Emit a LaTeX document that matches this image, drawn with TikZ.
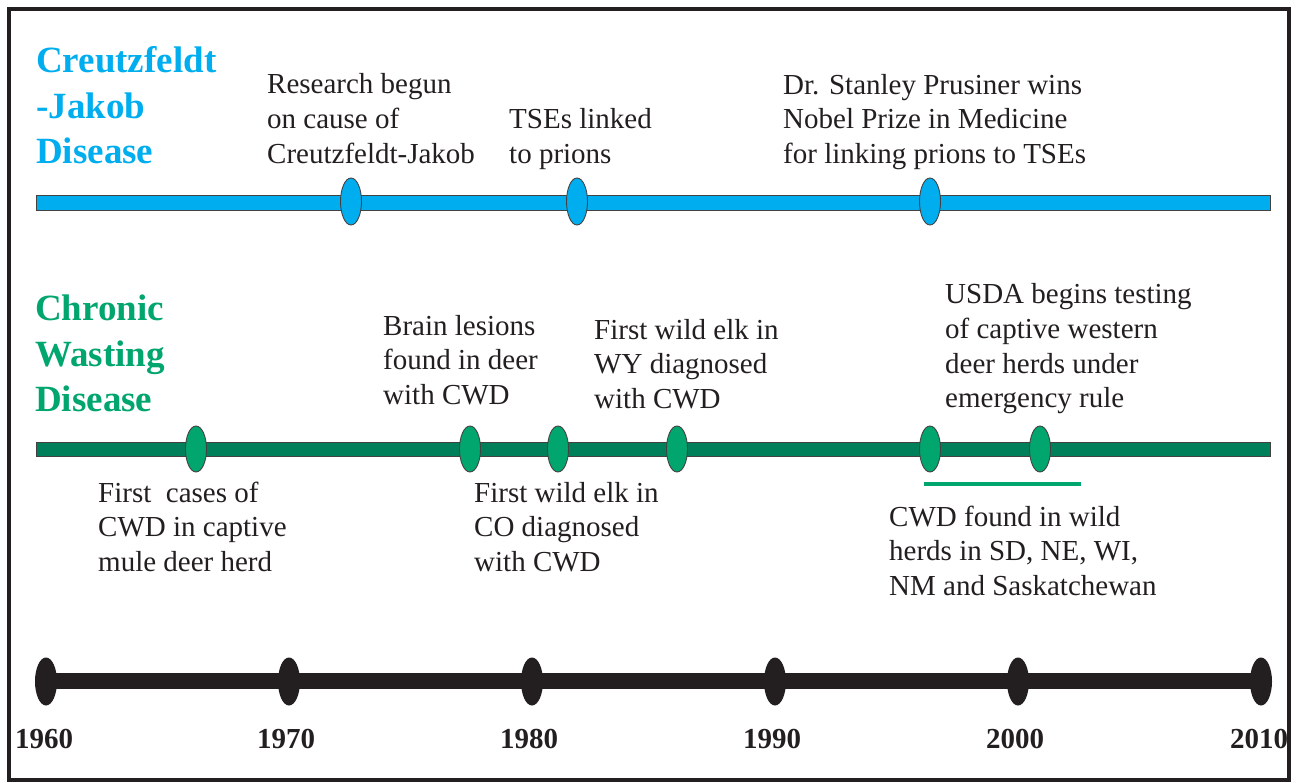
\documentclass[tikz,border=0pt]{standalone}
\usepackage{fontspec}
\setmainfont{Liberation Serif}
\usetikzlibrary{shapes.geometric}
\definecolor{cjdblue}{HTML}{00AEEF}
\definecolor{cwdgreen}{HTML}{00A66E}
\definecolor{bargreen}{HTML}{007F5B}
\definecolor{ink}{HTML}{231F20}
\begin{document}
\begin{tikzpicture}[x=1pt,y=-1pt,
  body/.style={anchor=north west, inner sep=0pt, align=left, text=ink, font=\fontsize{29}{34.7}\selectfont},
  title/.style={anchor=north west, inner sep=0pt, align=left, font=\bfseries\fontsize{37}{45.3}\selectfont},
  year/.style={anchor=base, inner sep=0pt, text=ink, font=\bfseries\fontsize{29}{34}\selectfont},
  bar/.style={draw=ink!85, line width=0.9pt},
  bluemark/.style={ellipse, draw=ink!85, line width=0.9pt, fill=cjdblue, minimum width=21pt, minimum height=47pt, inner sep=0pt},
  greenmark/.style={ellipse, draw=ink!85, line width=0.9pt, fill=cwdgreen, minimum width=21pt, minimum height=46pt, inner sep=0pt},
  blackmark/.style={ellipse, fill=ink, minimum width=22pt, minimum height=48pt, inner sep=0pt},
]
\useasboundingbox (0,0) rectangle (1297,783);
\fill[white] (0,0) rectangle (1297,783);
\draw[ink, line width=4pt] (9,9) rectangle (1289,780);

% bars
\draw[bar, fill=cjdblue] (36,195) rectangle (1270,210);
\draw[bar, fill=bargreen] (36,442) rectangle (1270,456);
\fill[ink] (46,673) rectangle (1261,689);

% CJD markers
\node[bluemark] (b1) at (351,201.5) {};
\node[bluemark] (b2) at (577,201.5) {};
\node[bluemark] (b3) at (930,201.5) {};

% CWD markers
\node[greenmark] (g1) at (196,449) {};
\node[greenmark] (g2) at (470,449) {};
\node[greenmark] (g3) at (558,449) {};
\node[greenmark] (g4) at (677,449) {};
\node[greenmark] (g5) at (930,449) {};
\node[greenmark] (g6) at (1040,449) {};
\draw[cwdgreen, line width=4.5pt] (924,484) -- (1081,484);

% decade markers
\node[blackmark] (y1960) at (46,681.5) {};
\node[blackmark] (y1970) at (289,681.5) {};
\node[blackmark] (y1980) at (532,681.5) {};
\node[blackmark] (y1990) at (775,681.5) {};
\node[blackmark] (y2000) at (1018,681.5) {};
\node[blackmark] (y2010) at (1261,681.5) {};

\node[year] (l1960) at (44,748) {1960};
\node[year] (l1970) at (286,748) {1970};
\node[year] (l1980) at (529,748) {1980};
\node[year] (l1990) at (772,748) {1990};
\node[year] (l2000) at (1015,748) {2000};
\node[year] (l2010) at (1259,748) {2010};

% titles
\node[title, text=cjdblue] (cjd) at (36,41) {\strut Creutzfeldt\\-Jakob\\Disease};
\node[title, text=cwdgreen] (cwd) at (35,289) {\strut Chronic\\Wasting\\Disease};

% CJD events
\node[body] (t1) at (267,69.2) {\strut Research begun\\on cause of\\Creutzfeldt-Jakob};
\node[body] (t2) at (509,104.2) {\strut TSEs linked\\to prions};
\node[body] (t3) at (783,69.7) {\strut Dr. Stanley Prusiner wins\\Nobel Prize in Medicine\\for linking prions to TSEs};

% CWD events above
\node[body] (t4) at (383,310.7) {\strut Brain lesions\\found in deer\\with CWD};
\node[body] (t5) at (594,314.7) {\strut First wild elk in\\WY diagnosed\\with CWD};
\node[body] (t6) at (945,279.2) {\strut USDA begins testing\\of captive western\\deer herds under\\emergency rule};

% CWD events below
\node[body] (t7) at (98,477.7) {\strut First\ \ cases of\\CWD in captive\\mule deer herd};
\node[body] (t8) at (474,477.7) {\strut First wild elk in\\CO diagnosed\\with CWD};
\node[body] (t9) at (889,501.7) {\strut CWD found in wild\\herds in SD, NE, WI,\\NM and Saskatchewan};
\end{tikzpicture}
\end{document}
